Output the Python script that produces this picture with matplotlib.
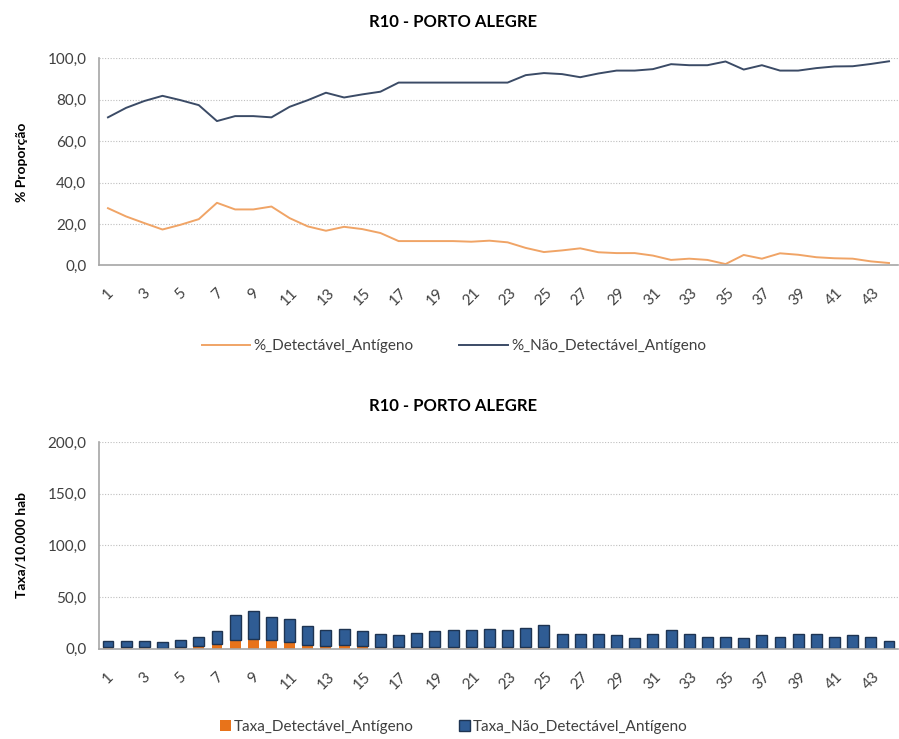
import matplotlib
matplotlib.use("Agg")
import matplotlib.pyplot as plt
import numpy as np

plt.rcParams['font.family'] = ['Lato', 'DejaVu Sans']

weeks = list(range(1, 45))
tick_labels = [str(w) for w in range(1, 45, 2)]

pct_detect = [27.6, 23.6, 20.4, 17.3, 19.6, 22.3, 30.2, 27.0, 27.0, 28.4,
              22.8, 18.8, 16.7, 18.6, 17.5, 15.6, 11.7, 11.7, 11.7, 11.7,
              11.4, 11.9, 11.1, 8.4, 6.4, 7.2, 8.2, 6.3, 5.9, 5.9,
              4.7, 2.6, 3.2, 2.6, 0.6, 5.0, 3.2, 5.8, 5.1, 3.9,
              3.4, 3.2, 1.9, 1.1]
pct_nao_detect = [71.5, 76.1, 79.4, 81.9, 79.8, 77.4, 69.7, 72.1, 72.1, 71.5,
                  76.6, 79.8, 83.4, 81.1, 82.6, 83.9, 88.3, 88.3, 88.3, 88.3,
                  88.3, 88.3, 88.3, 91.9, 92.9, 92.4, 90.9, 92.7, 94.1, 94.1,
                  94.8, 97.2, 96.7, 96.7, 98.5, 94.6, 96.7, 94.1, 94.1, 95.3,
                  96.1, 96.2, 97.3, 98.6]

taxa_detect = [2.1, 1.8, 1.6, 1.1, 1.6, 2.6, 5.1, 8.7, 9.7, 8.8,
               6.5, 4.1, 3.0, 3.6, 2.9, 2.2, 1.5, 1.8, 2.0, 2.1,
               2.0, 2.1, 2.0, 1.7, 1.5, 1.0, 1.2, 0.9, 0.8, 0.6,
               0.7, 0.5, 0.5, 0.3, 0.1, 0.5, 0.4, 0.7, 0.7, 0.6,
               0.4, 0.4, 0.2, 0.1]
taxa_nao_detect = [5.6, 5.9, 6.1, 5.4, 6.5, 9.0, 11.7, 23.6, 26.4, 22.2,
                   21.9, 17.8, 15.1, 15.8, 13.9, 12.0, 11.4, 13.7, 14.8, 16.0,
                   16.1, 17.3, 16.1, 18.9, 21.7, 13.2, 13.0, 13.3, 12.1, 9.7,
                   13.5, 17.6, 13.7, 11.3, 11.5, 9.8, 12.5, 10.9, 13.5, 13.6,
                   11.2, 12.5, 11.4, 7.6]

title = "R10 - PORTO ALEGRE"
c_line_det = '#F0A466'
c_line_nao = '#3B4B66'
c_bar_det = '#E8731A'
c_bar_nao = '#2F5C94'
c_bar_edge = '#1E3452'
grid_c = '#BFBFBF'
spine_c = '#A6A6A6'
txt_c = '#404040'

fig = plt.figure(figsize=(8.99, 7.39), dpi=100)

def style(ax, ylim, yticks):
    ax.set_xlim(0.5, 44.5)
    ax.set_ylim(*ylim)
    ax.set_yticks(yticks)
    ax.set_yticklabels([f"{v:.1f}".replace('.', ',') for v in yticks],
                       fontsize=11, color=txt_c)
    ax.set_xticks(range(1, 45, 2))
    ax.set_xticklabels(tick_labels, rotation=45, ha='center', fontsize=11,
                       color=txt_c)
    ax.tick_params(axis='both', length=0)
    ax.tick_params(axis='x', pad=15)
    ax.tick_params(axis='y', pad=9)
    for s in ['top', 'right']:
        ax.spines[s].set_visible(False)
    for s in ['left', 'bottom']:
        ax.spines[s].set_color(spine_c)
        ax.spines[s].set_linewidth(1.2)
    ax.grid(axis='y', color=grid_c, linestyle=(0, (1, 1.5)), linewidth=0.8)
    ax.set_axisbelow(True)

# Top chart
ax1 = fig.add_axes([0.110, 0.641, 0.889, 0.280])
ax1.plot(weeks, pct_detect, color=c_line_det, lw=1.4, label='%_Detectável_Antígeno')
ax1.plot(weeks, pct_nao_detect, color=c_line_nao, lw=1.4, label='%_Não_Detectável_Antígeno')
style(ax1, (0, 100), [0, 20, 40, 60, 80, 100])
ax1.set_ylabel('% Proporção', fontsize=10, fontweight='bold', color='#000000', labelpad=14)
fig.text(0.504, 0.970, title, ha='center', va='center', fontsize=12, fontweight='bold')
fig.legend(*ax1.get_legend_handles_labels(), loc='center', bbox_to_anchor=(0.505, 0.532),
           ncol=2, frameon=False, fontsize=11, handlelength=3.2, columnspacing=3.0,
           handletextpad=0.2, labelcolor=txt_c)

# Bottom chart
ax2 = fig.add_axes([0.110, 0.122, 0.889, 0.280])
ax2.bar(weeks, taxa_detect, width=0.6, color=c_bar_det, edgecolor=c_bar_edge,
        linewidth=0.0, label='Taxa_Detectável_Antígeno')
ax2.bar(weeks, taxa_nao_detect, width=0.6, bottom=taxa_detect, color=c_bar_nao,
        edgecolor=c_bar_edge, linewidth=1.0, label='Taxa_Não_Detectável_Antígeno')
style(ax2, (0, 200), [0, 50, 100, 150, 200])
ax2.set_ylabel('Taxa/10.000 hab', fontsize=10, fontweight='bold', color='#000000', labelpad=14)
fig.text(0.504, 0.450, title, ha='center', va='center', fontsize=12, fontweight='bold')
fig.legend(*ax2.get_legend_handles_labels(), loc='center', bbox_to_anchor=(0.505, 0.016),
           ncol=2, frameon=False, fontsize=11, handlelength=0.7, handleheight=0.7,
           columnspacing=3.0, handletextpad=0.2, labelcolor=txt_c)

fig.savefig('out.png', dpi=100)
